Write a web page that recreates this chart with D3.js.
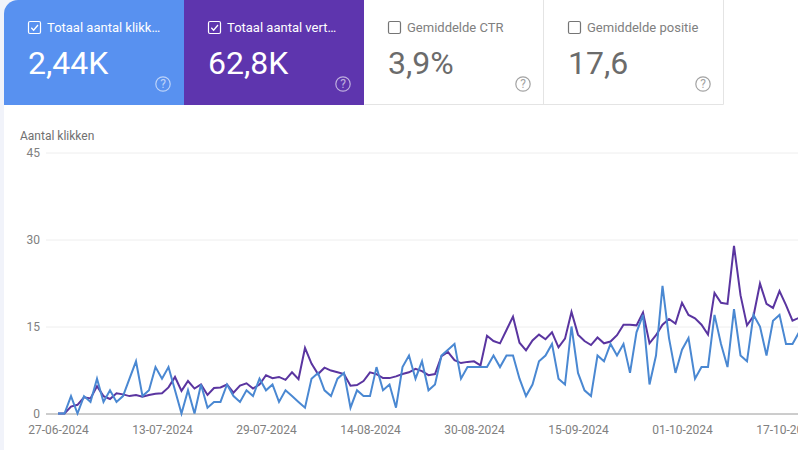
<!DOCTYPE html>
<html><head><meta charset="utf-8">
<script src="https://cdn.jsdelivr.net/npm/d3@7"></script>
<style>html,body{margin:0;padding:0;background:#fff;overflow:hidden}svg{display:block;font-family:Roboto,sans-serif}</style>
</head><body><svg id="c" width="798" height="450"></svg>
<script>
const clicks=[0,0,3,0,3,2,6,2,4,2,3,6,9,3,4,8,6,8,4,0,4,0,5,1,2,2,5,3,2,4,3,6,4,5,2,4,3,2,1,6,7,4,3,6,7,1,4,3,3,8,4,5,1,8,10,6,9,4,5,10,11,12,6,8,8,8,8,10,8,10,10,6,3,5,9,10,12,6,5,15,7,4,3,10,9,12,10,12,7,14,17,5,10,22,13,7,11,13,6,8,8,17,12,8,18,10,9,17,15,10,16,17,12,12,14];
const impressions=[0,0,1.2,1.5,2.8,2.6,4.7,3,2.5,3.5,3.3,3,3.2,2.9,3.2,3.4,3.5,4.5,6.3,3.9,5.6,4.3,5,3.2,4.4,4.5,5,3.6,4.8,5.2,4.3,5,6.6,6.1,6.3,5.8,7.1,5.9,11.3,8.6,6.8,7.9,7.4,7.1,6.8,4.8,4.9,5.6,7.1,6.8,6.1,6.1,6.4,6.8,7.1,7.7,7.3,6.6,6.8,9.9,10.6,9.2,8.7,8.9,9,8.3,13.4,12.5,12.1,14.4,16.7,12.2,10.9,12.6,13.6,12.8,14,11.4,12.9,17.5,13.6,12.5,11.8,13.1,12.1,12.4,13.5,15.3,15.3,15.2,17.4,12.1,13.5,15.3,16.3,15.5,19.1,17,16.4,15.3,13.6,20.8,19.1,18.9,28.9,20.4,15.2,16.8,22.4,18.9,18.2,21.1,18.7,16,16.5];
const dateLabels=["27-06-2024","13-07-2024","29-07-2024","14-08-2024","30-08-2024","15-09-2024","01-10-2024","17-10-2024"];
const dateIndex=[0,16,32,48,64,80,96,112];
const yTicks=[0,15,30,45];
const cardTitles=["Totaal aantal klikk…","Totaal aantal vert…","Gemiddelde CTR","Gemiddelde positie"];
const cardValues=["2,44K","62,8K","3,9%","17,6"];
const cardFills=["#5891f0","#5e35ae","#fff","#fff"];
const cardChecked=[true,true,false,false];
const axisTitle="Aantal klikken";

const svg=d3.select("#c");
svg.append("rect").attr("width",4).attr("height",450).attr("fill","#f1f3fa");
svg.append("rect").attr("width",24).attr("height",24).attr("fill","#f1f3fa");

const cx=d3.scaleBand().domain(d3.range(4)).range([4,724]);
const cards=svg.selectAll("g.card").data(cardTitles).join("g").attr("class","card")
  .attr("transform",(d,i)=>`translate(${cx(i)},0)`);
cards.append("path").attr("d",(d,i)=>i==0?"M0,105V14A14,14 0 0 1 14,0H180V105Z":"M0,0H180V105H0Z")
  .attr("fill",(d,i)=>cardFills[i]);
svg.append("path").attr("d","M364.5,104.5H723.5V0M543.5,0V104").attr("fill","none").attr("stroke","#e4e4e4");
const fg=i=>cardChecked[i]?"#fff":"#757575";
cards.append("rect").attr("x",24.5).attr("y",21.5).attr("width",12).attr("height",12).attr("rx",1.5)
  .attr("fill","none").attr("stroke",(d,i)=>fg(i)).attr("stroke-width",1.2);
cards.filter((d,i)=>cardChecked[i]).append("path").attr("d","M27.3,27.8L29.6,30.2L34,25").attr("fill","none").attr("stroke","#fff").attr("stroke-width",1.3);
cards.append("text").attr("x",43).attr("y",31.5).attr("font-size",13)
  .attr("fill",(d,i)=>cardChecked[i]?"#fff":"#808080").text(d=>d);
cards.append("text").attr("x",24).attr("y",73.5).attr("font-size",32)
  .attr("fill",(d,i)=>cardChecked[i]?"#fff":"#6b6b6b").text((d,i)=>cardValues[i]);
const help=cards.append("g").attr("transform","translate(159,84)").attr("opacity",.6);
help.append("circle").attr("r",7.2).attr("fill","none").attr("stroke",(d,i)=>cardChecked[i]?"#fff":"#666").attr("stroke-width",1.2);
help.append("text").attr("text-anchor","middle").attr("y",4.2).attr("font-size",12).attr("fill",(d,i)=>cardChecked[i]?"#fff":"#666").text("?");

const x=d3.scaleLinear().domain([0,1]).range([58,64.5]);
const y=d3.scaleLinear().domain([0,45]).range([413.5,152.5]);

svg.append("text").attr("x",20).attr("y",140).attr("font-size",12).attr("fill","#707070").text(axisTitle);

const yAxis=svg.append("g").attr("transform","translate(46,0)")
  .call(d3.axisLeft(y).tickValues(yTicks).tickSize(-752).tickPadding(6));
yAxis.select(".domain").remove();
yAxis.selectAll("line").attr("stroke",d=>d==0?"#9a9a9a":"#eeeeee");
yAxis.selectAll("text").attr("font-family","Roboto").attr("font-size",12).attr("fill","#808080");

const xAxis=svg.append("g").attr("transform","translate(0,413.5)")
  .call(d3.axisBottom(x).tickValues(dateIndex).tickFormat((d,i)=>dateLabels[i]).tickSize(0).tickPadding(12));
xAxis.select(".domain").remove();
xAxis.selectAll("text").attr("font-family","Roboto").attr("font-size",12).attr("fill","#808080");

const line=d3.line().x((d,i)=>x(i)).y(d=>y(d));
svg.append("path").datum(impressions).attr("d",line).attr("fill","none").attr("stroke","#5a35a0").attr("stroke-width",2);
svg.append("path").datum(clicks).attr("d",line).attr("fill","none").attr("stroke","#4a88d2").attr("stroke-width",2);
</script></body></html>
